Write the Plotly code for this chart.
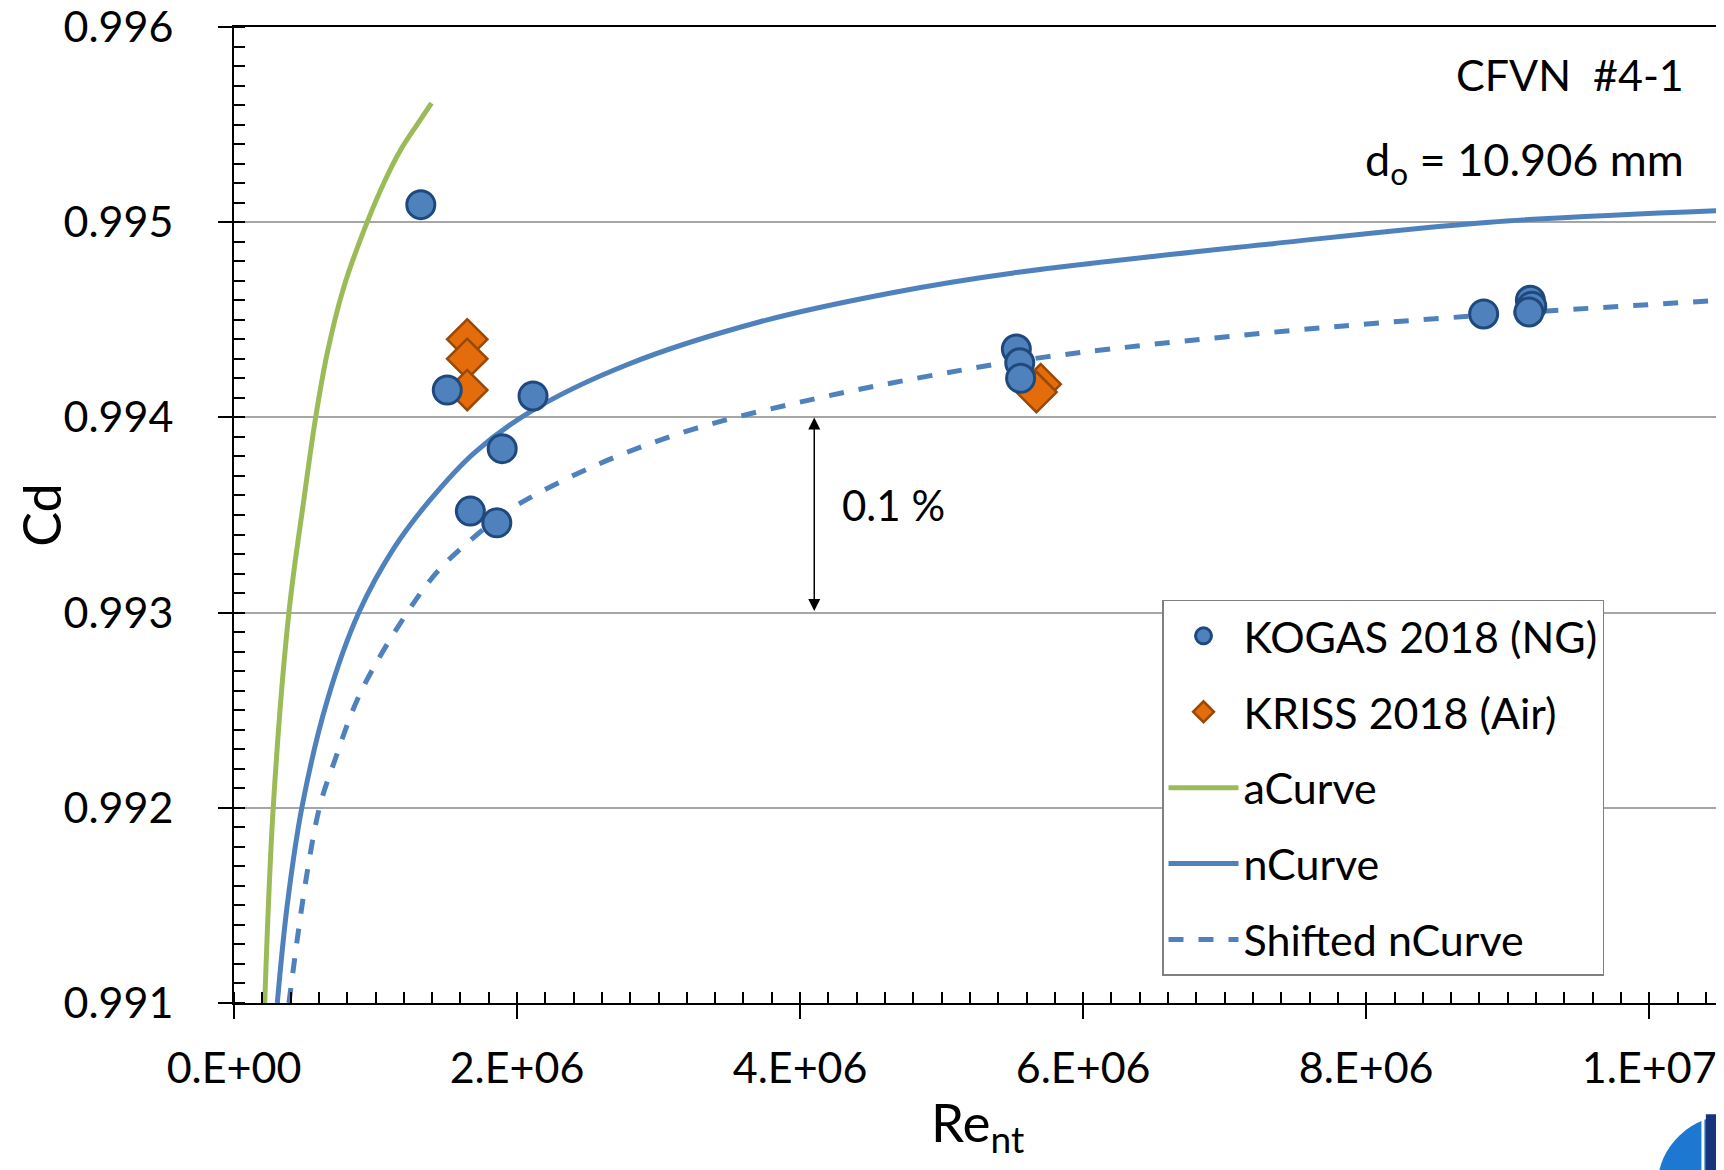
import plotly.graph_objects as go

# ---------------- data ----------------
kogas_re = [1.32e6, 1.507e6, 2.113e6, 1.895e6, 1.670e6, 1.857e6,
            5.528e6, 5.552e6, 5.558e6, 8.83e6, 9.16e6, 9.17e6, 9.15e6]
kogas_cd = [0.99509, 0.99414, 0.99411, 0.99384, 0.99352, 0.99346,
            0.99435, 0.99428, 0.99420, 0.99453, 0.99460, 0.99457, 0.99454]

kriss_re = [1.648e6, 1.648e6, 1.648e6, 5.70e6, 5.67e6]
kriss_cd = [0.99440, 0.99430, 0.99414, 0.99417, 0.99413]

acurve_re = [0.217e6, 0.278e6, 0.388e6, 0.494e6, 0.577e6, 0.659e6, 0.777e6, 0.941e6,
             1.071e6, 1.177e6, 1.294e6, 1.396e6]
acurve_cd = [0.99100, 0.99201, 0.99300, 0.99358, 0.99400, 0.99433, 0.99467, 0.99500,
             0.99522, 0.99537, 0.99550, 0.99561]

ncurve_re = [0.306e6, 0.376e6, 0.482e6, 0.659e6, 0.882e6, 1.13e6, 1.389e6, 1.70e6, 2.118e6,
             2.777e6, 3.717e6, 4.66e6, 5.507e6, 7.342e6, 8.87e6, 10.5e6]
ncurve_cd = [0.99100, 0.99150, 0.99201, 0.99255, 0.99300, 0.99333, 0.99358, 0.99382, 0.99404,
             0.99427, 0.99449, 0.99464, 0.99474, 0.99489, 0.99500, 0.99506]

shifted_re = [0.388e6, 0.506e6, 0.607e6, 0.706e6, 0.894e6, 1.224e6, 1.45e6, 1.718e6, 1.953e6,
              2.541e6, 3.247e6, 4.071e6, 4.895e6, 5.74e6, 7.86e6, 10.5e6]
shifted_cd = [0.99100, 0.99162, 0.99201, 0.99223, 0.99259, 0.99300, 0.99322, 0.99340, 0.99353,
              0.99375, 0.99394, 0.99409, 0.99421, 0.99431, 0.99447, 0.99460]

x_tickvals = [0, 2e6, 4e6, 6e6, 8e6, 1e7]
x_ticktext = ["0.E+00", "2.E+06", "4.E+06", "6.E+06", "8.E+06", "1.E+07"]
y_tickvals = [0.991, 0.992, 0.993, 0.994, 0.995, 0.996]

arrow_re = 4.1e6
arrow_cd_top = 0.994
arrow_cd_bottom = 0.993

# ---------------- styles ----------------
FONT = "Lato, Calibri, 'Open Sans', sans-serif"
GREEN = "#9BBB59"
BLUE = "#4F81BD"
BLUE_DARK = "#1F497D"
ORANGE = "#E46C0A"
ORANGE_DARK = "#984807"

fig = go.Figure()

fig.add_trace(go.Scatter(x=acurve_re, y=acurve_cd, mode="lines", name="aCurve",
                         line=dict(color=GREEN, width=5, shape="spline", smoothing=1.0),
                         legendrank=3, legendgroup="a"))
fig.add_trace(go.Scatter(x=ncurve_re, y=ncurve_cd, mode="lines", name="nCurve",
                         line=dict(color=BLUE, width=5, shape="spline", smoothing=1.0),
                         legendrank=4, legendgroup="n"))
fig.add_trace(go.Scatter(x=shifted_re, y=shifted_cd, mode="lines", name="Shifted nCurve",
                         line=dict(color=BLUE, width=5, dash="dash", shape="spline", smoothing=1.0),
                         legendrank=5, legendgroup="s"))
fig.add_trace(go.Scatter(x=kriss_re, y=kriss_cd, mode="markers", name="KRISS 2018 (Air)",
                         marker=dict(symbol="diamond", size=31, color=ORANGE,
                                     line=dict(color=ORANGE_DARK, width=2.5)),
                         legendrank=2, legendgroup="k"))
fig.add_trace(go.Scatter(x=kogas_re, y=kogas_cd, mode="markers", name="KOGAS 2018 (NG)",
                         marker=dict(symbol="circle", size=28, color=BLUE,
                                     line=dict(color=BLUE_DARK, width=3)),
                         legendrank=1, legendgroup="g"))

annotations = [
    dict(x=0.977, y=0.951, xref="paper", yref="paper", text="CFVN  #4-1",
         showarrow=False, xanchor="right", yanchor="middle",
         font=dict(family=FONT, size=43, color="black")),
    dict(x=0.977, y=0.862, xref="paper", yref="paper",
         text="d<sub>o</sub> = 10.906 mm",
         showarrow=False, xanchor="right", yanchor="middle",
         font=dict(family=FONT, size=45, color="black")),
    dict(x=4.28e6, y=0.99355, xref="x", yref="y", text="0.1 %",
         showarrow=False, xanchor="left", yanchor="middle",
         font=dict(family=FONT, size=42, color="black")),
    # double-headed arrow
    dict(x=arrow_re, y=arrow_cd_top, ax=arrow_re, ay=arrow_cd_bottom,
         xref="x", yref="y", axref="x", ayref="y", text="",
         showarrow=True, arrowhead=2, startarrowhead=2, arrowside="end+start",
         arrowsize=1.6, arrowwidth=1.5, arrowcolor="black"),
    dict(x=-0.13, y=0.5, xref="paper", yref="paper", text="Cd",
         showarrow=False, textangle=-90, xanchor="center", yanchor="middle",
         font=dict(family=FONT, size=52, color="black")),
    dict(x=0.5, y=-0.125, xref="paper", yref="paper", text="Re<sub>nt</sub>",
         showarrow=False, xanchor="center", yanchor="middle",
         font=dict(family=FONT, size=53, color="black")),
]

shapes = [
    # partial logo at the bottom-right corner (decoration)
    dict(type="circle", xref="paper", yref="paper",
         x0=0.958, x1=1.06, y0=-0.26, y1=-0.114,
         fillcolor="#1C78D0", line=dict(width=0), layer="above"),
    dict(type="rect", xref="paper", yref="paper",
         x0=0.9905, x1=1.06, y0=-0.26, y1=-0.114,
         fillcolor="#16357A", line=dict(width=0), layer="above"),
    dict(type="line", xref="paper", yref="paper",
         x0=0.9885, x1=0.9885, y0=-0.26, y1=-0.118,
         line=dict(color="white", width=3), layer="above"),
]

# the page body keeps its default 8 px margin, so the figure is sized to fill
# the rest of the 1724x1170 window and the margins are offset accordingly
fig.update_layout(
    width=1716, height=1162,
    margin=dict(l=226, r=4, t=19, b=167, autoexpand=False),
    paper_bgcolor="white", plot_bgcolor="white",
    font=dict(family=FONT, size=42, color="black"),
    showlegend=True,
    legend=dict(x=0.6245, y=0.413, xanchor="left", yanchor="top",
                bgcolor="white", bordercolor="#808080", borderwidth=1.5,
                font=dict(family=FONT, size=43, color="black"),
                traceorder="grouped", tracegroupgap=17, itemwidth=70),
    annotations=annotations,
    shapes=shapes,
    xaxis=dict(range=[0, 1.05e7], tickvals=x_tickvals, ticktext=x_ticktext,
               automargin=False,
               showgrid=False, zeroline=False,
               showline=True, linecolor="black", linewidth=2, mirror=True,
               ticks="outside", ticklen=14, tickwidth=1.5, tickcolor="black",
               ticklabelstandoff=12, ticklabeloverflow="allow",
               tickfont=dict(family=FONT, size=43, color="black"),
               minor=dict(dtick=2e5, tick0=0, ticks="inside", ticklen=11,
                          tickwidth=1.5, tickcolor="black", showgrid=False)),
    yaxis=dict(range=[0.991, 0.996], tickvals=y_tickvals, tickformat=".3f",
               automargin=False,
               showgrid=True, gridcolor="#A6A6A6", gridwidth=1.5, zeroline=False,
               showline=True, linecolor="black", linewidth=2, mirror=True,
               ticks="outside", ticklen=14, tickwidth=1.5, tickcolor="black",
               ticklabelstandoff=36, ticklabeloverflow="allow",
               tickfont=dict(family=FONT, size=43, color="black"),
               minor=dict(dtick=0.0001, tick0=0.991, ticks="inside", ticklen=11,
                          tickwidth=1.5, tickcolor="black", showgrid=False)),
)

fig.write_html("out.html", config={"displayModeBar": False})
